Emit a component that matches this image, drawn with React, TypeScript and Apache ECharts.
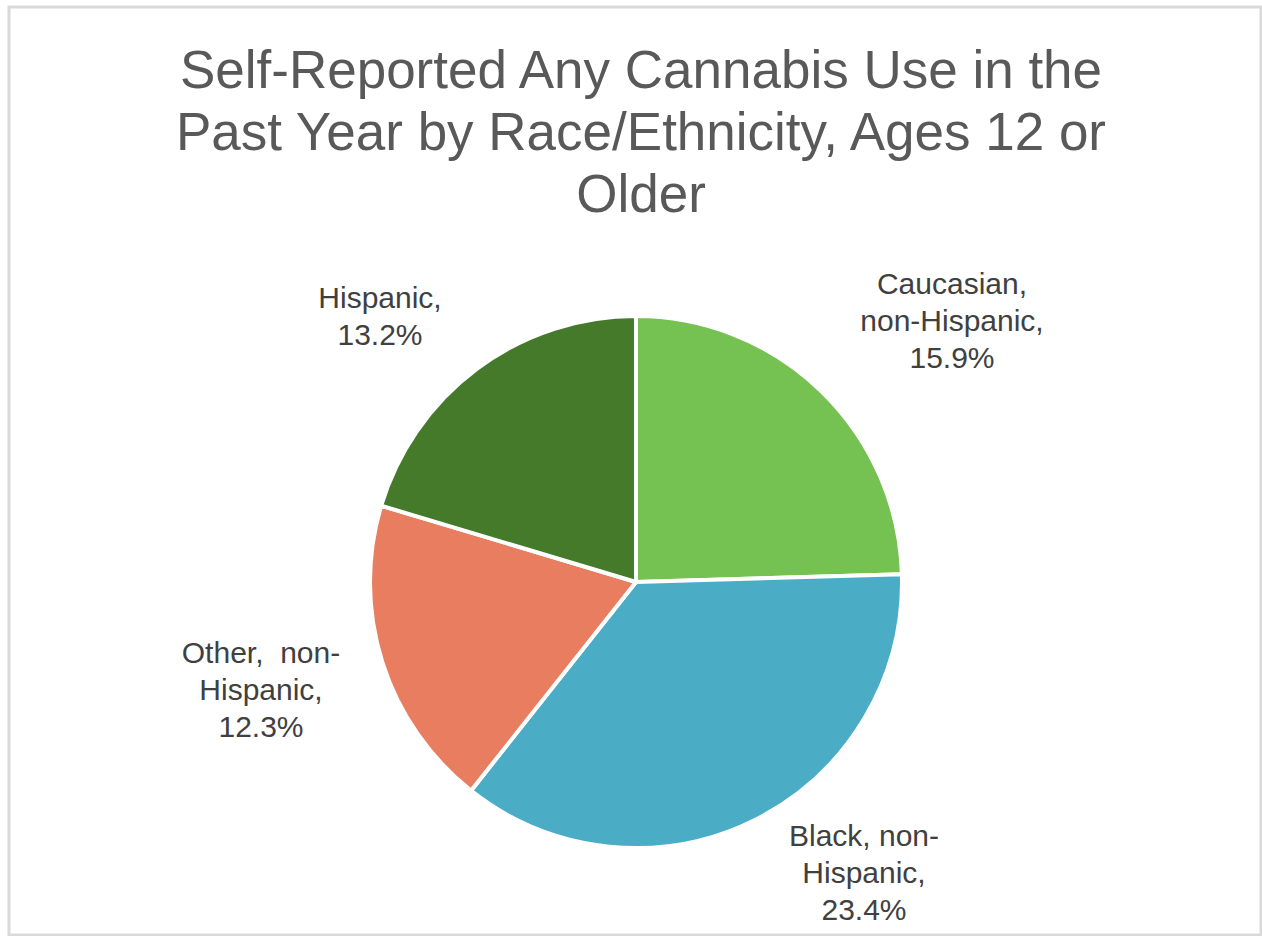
import React, { useEffect, useRef } from "react";
import * as echarts from "echarts";

const TITLE_LINES = [
  "Self-Reported Any Cannabis Use in the",
  "Past Year by Race/Ethnicity, Ages 12 or",
  "Older",
];

const categories = [
  "Caucasian, non-Hispanic",
  "Black, non-Hispanic",
  "Other,  non-Hispanic",
  "Hispanic",
];
const wrappedLabels = [
  "Caucasian,\nnon-Hispanic,",
  "Black, non-\nHispanic,",
  "Other,  non-\nHispanic,",
  "Hispanic,",
];
const values = [15.9, 23.4, 12.3, 13.2];
const colors = ["#75C152", "#4BACC6", "#E97D5F", "#457A2B"];

// label centres (layout only)
const LABEL_POS: [number, number][] = [
  [952, 320],
  [864, 872],
  [261, 689],
  [380, 316],
];

export default function App() {
  const ref = useRef<HTMLDivElement>(null);
  useEffect(() => {
    if (!ref.current) return;
    const chart = echarts.init(ref.current, undefined, { renderer: "svg" });
    const font = "'Liberation Sans', Arial, sans-serif";
    chart.setOption({
      animation: false,
      backgroundColor: "#ffffff",
      title: {
        text: TITLE_LINES.join("\n"),
        left: 636,
        top: 33,
        textAlign: "center",
        textStyle: {
          fontFamily: font,
          fontSize: 53,
          fontWeight: "normal",
          color: "#595959",
          lineHeight: 62,
        },
      },
      graphic: [
        {
          type: "rect",
          shape: { x: 9, y: 7, width: 1252, height: 928 },
          style: { fill: "none", stroke: "#D9D9D9", lineWidth: 3 },
          silent: true,
        },
      ],
      series: [
        {
          type: "pie",
          center: [636, 582],
          radius: 266,
          startAngle: 90,
          clockwise: true,
          avoidLabelOverlap: false,
          itemStyle: { borderColor: "#ffffff", borderWidth: 4 },
          label: {
            show: true,
            position: "outside",
            fontFamily: font,
            fontSize: 30,
            lineHeight: 37,
            color: "#404040",
            align: "center",
            formatter: (p: any) => `${wrappedLabels[p.dataIndex]}\n${p.value}%`,
          },
          labelLine: { show: false },
          labelLayout: (p: any) => ({
            x: LABEL_POS[p.dataIndex][0],
            y: LABEL_POS[p.dataIndex][1],
            align: "center",
            verticalAlign: "middle",
          }),
          emphasis: { disabled: true },
          data: categories.map((name, i) => ({
            name,
            value: values[i],
            itemStyle: { color: colors[i] },
          })),
        },
      ],
    });
    return () => chart.dispose();
  }, []);
  return (
    <div
      ref={ref}
      style={{ position: "fixed", left: 0, top: 0, width: 1262, height: 936 }}
    />
  );
}
